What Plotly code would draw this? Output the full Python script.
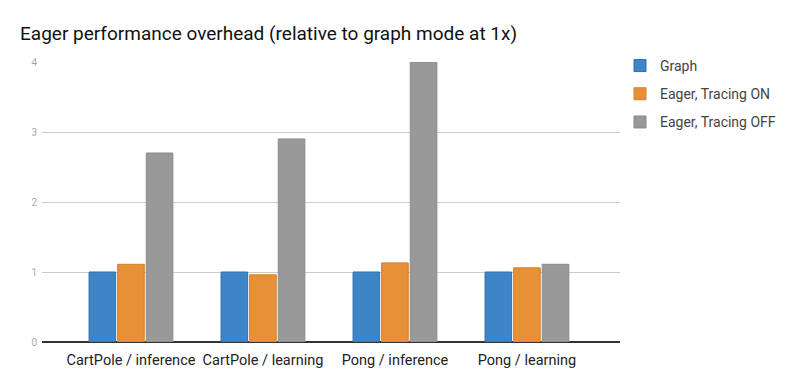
import plotly.graph_objects as go

categories = ["CartPole / inference", "CartPole / learning", "Pong / inference", "Pong / learning"]
graph = [1.0, 1.0, 1.0, 1.0]
tracing_on = [1.11, 0.96, 1.13, 1.06]
tracing_off = [2.7, 2.9, 4.0, 1.11]
y_ticks = [0, 1, 2, 3, 4]

series = [
    ("Graph", graph, "#3d85c6", "#2f6fb0"),
    ("Eager, Tracing ON", tracing_on, "#e69138", "#d9801f"),
    ("Eager, Tracing OFF", tracing_off, "#999999", "#8a8a8a"),
]

fig = go.Figure()
for name, vals, col, edge in series:
    fig.add_trace(go.Bar(
        name=name, x=categories, y=vals, legendgroup=name,
        marker=dict(color=col, line=dict(color=edge, width=1)),
    ))

fig.update_layout(
    width=800, height=386,
    margin=dict(l=34, r=188, t=54, b=52),
    paper_bgcolor="white", plot_bgcolor="white",
    barmode="group", bargap=0.35, bargroupgap=0.07,
    font=dict(family="Roboto", color="#222222"),
    title=dict(text="Eager performance overhead (relative to graph mode at 1x)",
               x=0.015, xanchor="left", y=0.935, yanchor="middle",
               font=dict(family="Roboto", size=19, color="#111111")),
    legend=dict(x=1.0, xanchor="left", y=1.043, yanchor="top",
                font=dict(family="Roboto", size=14, color="#444444"),
                itemwidth=30, tracegroupgap=7, traceorder="grouped"),
    showlegend=True,
)
fig.update_xaxes(
    range=[-0.674, 3.705], showgrid=False, ticks="",
    tickfont=dict(family="Roboto", size=14.5, color="#222222"),
    showline=False, zeroline=False, ticklabelstandoff=7,
)
fig.update_yaxes(
    range=[0, 4.0], tickvals=y_ticks, ticktext=[str(v) for v in y_ticks],
    showgrid=True, gridcolor="#cccccc", gridwidth=1,
    zeroline=True, zerolinecolor="#333333", zerolinewidth=2,
    tickfont=dict(family="Roboto", size=10, color="#aaaaaa"),
    ticks="", ticklabelstandoff=4,
)
fig.write_html("out.html")
